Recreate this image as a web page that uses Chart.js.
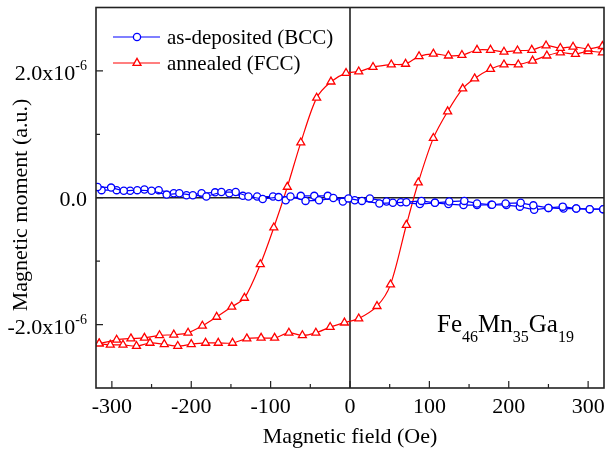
<!DOCTYPE html>
<html>
<head>
<meta charset="utf-8">
<script src="https://cdn.jsdelivr.net/npm/chart.js@4.4.1/dist/chart.umd.min.js"></script>
<style>
  html, body { margin: 0; padding: 0; background: #fff; }
</style>
</head>
<body>
<canvas id="mhLoop" width="606" height="449"></canvas>
<script>
// M-H loops of Fe46Mn35Ga19 films, field in Oe, moment in units of 1e-6 a.u.

// as-deposited (BCC), sweep from +H to -H
const bccDownH = [319, 302, 285, 268, 250, 231, 215, 196, 179, 160, 144, 125, 107, 90, 71, 54, 37, 15,
  -2, -21, -39, -56, -75, -90, -110, -128, -144, -162, -181, -198, -215, -231, -250, -268, -285, -301, -318];
const bccDownM = [-0.18, -0.18, -0.17, -0.14, -0.16, -0.12, -0.08, -0.09, -0.11, -0.09, -0.05, -0.06, -0.08, -0.05, -0.07, -0.08, -0.09, -0.05,
  -0.01, -0.005, -0.04, -0.05, 0.02, 0.01, -0.02, 0.02, 0.09, 0.09, 0.02, 0.04, 0.07, 0.05, 0.11, 0.12, 0.11, 0.16, 0.17];

// as-deposited (BCC), sweep from -H to +H
const bccUpH = [-313, -294, -277, -259, -241, -222, -206, -187, -170, -152, -135, -117, -97, -81, -62, -45, -28, -9,
  6, 25, 46, 64, 88, 107, 124, 143, 160, 178, 197, 214, 232, 250, 269, 285, 302, 319];
const bccUpM = [0.12, 0.12, 0.11, 0.13, 0.12, 0.07, 0.04, 0.07, 0.085, 0.07, 0.03, 0.02, 0.02, -0.04, 0.03, 0.03, 0.03, -0.06,
  -0.04, -0.01, -0.06, -0.07, -0.10, -0.08, -0.10, -0.115, -0.115, -0.11, -0.115, -0.14, -0.19, -0.16, -0.17, -0.17, -0.18, -0.18];

// annealed (FCC), sweep from +H to -H
const fccDownH = [318, 300, 281, 265, 247, 229, 211, 194, 177, 160, 141, 124, 105, 87, 70, 52, 29, 11,
  -5, -24, -42, -62, -79, -96, -113, -133, -149, -168, -186, -204, -222, -240, -259, -276, -294, -316];
const fccDownM = [2.39, 2.35, 2.38, 2.36, 2.40, 2.33, 2.32, 2.30, 2.33, 2.33, 2.25, 2.24, 2.27, 2.23, 2.11, 2.10, 2.06, 1.99,
  1.965, 1.83, 1.575, 0.87, 0.17, -0.47, -1.05, -1.58, -1.72, -1.88, -2.02, -2.13, -2.16, -2.17, -2.21, -2.22, -2.24, -2.30];

// annealed (FCC), sweep from -H to +H
const fccUpH = [-316, -302, -286, -269, -252, -234, -217, -200, -182, -166, -148, -130, -112, -95, -77, -60, -43, -25, -7,
  11, 34, 51, 71, 86, 105, 123, 142, 157, 177, 194, 212, 230, 248, 265, 284, 300, 318];
const fccUpM = [-2.30, -2.32, -2.32, -2.34, -2.29, -2.31, -2.34, -2.31, -2.29, -2.29, -2.29, -2.22, -2.21, -2.21, -2.13, -2.17, -2.13, -2.04, -1.97,
  -1.905, -1.71, -1.37, -0.43, 0.24, 0.94, 1.36, 1.72, 1.88, 2.03, 2.10, 2.10, 2.16, 2.24, 2.29, 2.265, 2.31, 2.29];

const xMajorTicks = [-300, -200, -100, 0, 100, 200, 300];
const xMinorTicks = [-250, -150, -50, 50, 150, 250];
const yMajorTicks = [-2, 0, 2];
const yMinorTicks = [-1, 1];
const seriesNames = ['as-deposited (BCC)', 'annealed (FCC)'];

const SERIF = '"Liberation Serif", "Times New Roman", serif';
const BLUE = '#0000ff';
const RED = '#ff0000';

function toXY(hs, ms) {
  return hs.map((h, i) => ({ x: h, y: ms[i] }));
}

const bccStyle = {
  showLine: true,
  borderColor: BLUE,
  backgroundColor: '#ffffff',
  borderWidth: 1.2,
  pointStyle: 'circle',
  pointRadius: 3.6,
  pointBorderWidth: 1.3,
  pointBackgroundColor: '#ffffff',
  pointBorderColor: BLUE,
  tension: 0
};

const fccStyle = {
  showLine: true,
  borderColor: RED,
  backgroundColor: '#ffffff',
  borderWidth: 1.2,
  pointStyle: 'triangle',
  pointRadius: 4.6,
  pointBorderWidth: 1.3,
  pointBackgroundColor: '#ffffff',
  pointBorderColor: RED,
  tension: 0.3
};

// zero lines under the data, frame / ticks / labels on top
const framePlugin = {
  id: 'frame',
  beforeDatasetsDraw(chart) {
    const { ctx, chartArea: a, scales: { x, y } } = chart;
    ctx.save();
    ctx.strokeStyle = '#222';
    ctx.lineWidth = 1.6;
    ctx.beginPath();
    const x0 = x.getPixelForValue(0);
    const y0 = y.getPixelForValue(0);
    ctx.moveTo(x0, a.top);
    ctx.lineTo(x0, a.bottom);
    ctx.moveTo(a.left, y0);
    ctx.lineTo(a.right, y0);
    ctx.stroke();
    ctx.restore();
  },
  afterDraw(chart) {
    const { ctx, chartArea: a, scales: { x, y } } = chart;
    ctx.save();

    // frame
    ctx.strokeStyle = '#222';
    ctx.lineWidth = 1.6;
    ctx.strokeRect(a.left, a.top, a.right - a.left, a.bottom - a.top);

    // inward ticks
    ctx.lineWidth = 1.2;
    ctx.beginPath();
    xMajorTicks.forEach(v => {
      const px = x.getPixelForValue(v);
      ctx.moveTo(px, a.bottom);
      ctx.lineTo(px, a.bottom - 7);
    });
    xMinorTicks.forEach(v => {
      const px = x.getPixelForValue(v);
      ctx.moveTo(px, a.bottom);
      ctx.lineTo(px, a.bottom - 4);
    });
    yMajorTicks.forEach(v => {
      const py = y.getPixelForValue(v);
      ctx.moveTo(a.left, py);
      ctx.lineTo(a.left + 7, py);
    });
    yMinorTicks.forEach(v => {
      const py = y.getPixelForValue(v);
      ctx.moveTo(a.left, py);
      ctx.lineTo(a.left + 4, py);
    });
    ctx.stroke();

    // y tick labels, 2.0x10^-6 style
    ctx.fillStyle = '#000';
    ctx.textBaseline = 'alphabetic';
    const labelRight = 87;
    yMajorTicks.forEach(v => {
      const py = y.getPixelForValue(v);
      if (v === 0) {
        ctx.font = '22px ' + SERIF;
        ctx.textAlign = 'right';
        ctx.fillText('0.0', labelRight, py + 8);
        return;
      }
      const main = (v < 0 ? '-' : '') + Math.abs(v).toFixed(1) + 'x10';
      ctx.font = '14px ' + SERIF;
      const supW = ctx.measureText('-6').width;
      ctx.textAlign = 'right';
      ctx.fillText('-6', labelRight, py - 1);
      ctx.font = '22px ' + SERIF;
      ctx.fillText(main, labelRight - supW, py + 9);
    });

    // axis titles
    ctx.font = '22px ' + SERIF;
    ctx.textAlign = 'center';
    ctx.fillText('Magnetic field (Oe)', (a.left + a.right) / 2, 443);
    ctx.save();
    ctx.translate(27, 205);
    ctx.rotate(-Math.PI / 2);
    ctx.fillText('Magnetic moment (a.u.)', 0, 0);
    ctx.restore();

    // legend
    const legendRows = [
      { text: seriesNames[0], color: BLUE, style: 'circle', r: 3.6, y: 37 },
      { text: seriesNames[1], color: RED, style: 'triangle', r: 4.6, y: 63 }
    ];
    legendRows.forEach(row => {
      ctx.strokeStyle = row.color;
      ctx.lineWidth = 1.2;
      ctx.beginPath();
      ctx.moveTo(113, row.y);
      ctx.lineTo(160, row.y);
      ctx.stroke();
      ctx.fillStyle = '#fff';
      ctx.strokeStyle = row.color;
      ctx.lineWidth = 1.3;
      Chart.helpers.drawPoint(ctx, { pointStyle: row.style, radius: row.r, borderWidth: 1.3, rotation: 0 }, 137, row.y);
      ctx.fillStyle = '#000';
      ctx.font = '21px ' + SERIF;
      ctx.textAlign = 'left';
      ctx.textBaseline = 'middle';
      ctx.fillText(row.text, 167, row.y + 1);
    });

    // composition label with subscripts
    ctx.textBaseline = 'alphabetic';
    ctx.textAlign = 'left';
    let cx = 437;
    [['Fe', '46'], ['Mn', '35'], ['Ga', '19']].forEach(([el, n]) => {
      ctx.font = '25px ' + SERIF;
      ctx.fillText(el, cx, 332);
      cx += ctx.measureText(el).width;
      ctx.font = '16px ' + SERIF;
      ctx.fillText(n, cx, 342);
      cx += ctx.measureText(n).width;
    });

    ctx.restore();
  }
};

new Chart(document.getElementById('mhLoop'), {
  type: 'scatter',
  data: {
    datasets: [
      { label: seriesNames[0], data: toXY(bccDownH, bccDownM), ...bccStyle },
      { label: seriesNames[0], data: toXY(bccUpH, bccUpM), ...bccStyle },
      { label: seriesNames[1], data: toXY(fccDownH, fccDownM), ...fccStyle },
      { label: seriesNames[1], data: toXY(fccUpH, fccUpM), ...fccStyle }
    ]
  },
  options: {
    responsive: false,
    animation: false,
    layout: { autoPadding: false, padding: { top: 7.5, right: 2, left: 0, bottom: 0 } },
    plugins: {
      legend: { display: false },
      tooltip: { enabled: false }
    },
    scales: {
      x: {
        type: 'linear',
        min: -320,
        max: 320,
        grid: { display: false, drawTicks: false },
        border: { display: false },
        ticks: {
          stepSize: 100,
          includeBounds: false,
          padding: 6,
          color: '#000',
          font: { family: SERIF, size: 22 },
          maxRotation: 0
        },
        afterFit: s => {
          s.height = 61;
          s.paddingLeft = 0;
          s.paddingRight = 0;
        }
      },
      y: {
        type: 'linear',
        min: -3,
        max: 3,
        grid: { display: false, drawTicks: false },
        border: { display: false },
        ticks: { display: false },
        afterFit: s => { s.width = 96; }
      }
    }
  },
  plugins: [framePlugin]
});
</script>
</body>
</html>
